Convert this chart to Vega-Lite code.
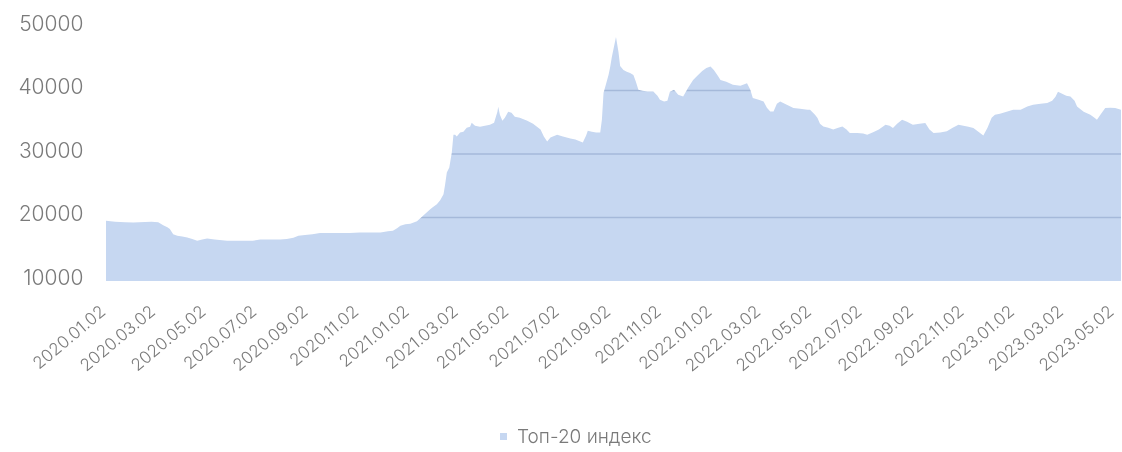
{
  "$schema": "https://vega.github.io/schema/vega-lite/v6.json",
  "width": 1015,
  "height": 254,
  "autosize": {"type": "none"},
  "padding": {"left": 106, "top": 27, "right": 1, "bottom": 171},
  "background": "white",
  "config": {
    "view": {"stroke": null},
    "font": "Inter",
    "legend": {"labelFontSize": 19, "labelFont": "Inter", "labelFontWeight": 300, "labelColor": "#7a7a7a", "symbolSize": 49, "symbolType": "square", "padding": 0}
  },
  "layer": [
    {
      "data": {"values": [
        {"d":"2020-01-02","v":19470},{"d":"2020-01-13","v":19340},{"d":"2020-01-25","v":19260},{"d":"2020-02-04","v":19220},
        {"d":"2020-02-18","v":19310},{"d":"2020-02-26","v":19340},{"d":"2020-03-05","v":19260},{"d":"2020-03-11","v":18790},
        {"d":"2020-03-16","v":18480},{"d":"2020-03-19","v":18170},{"d":"2020-03-23","v":17380},{"d":"2020-03-28","v":17120},
        {"d":"2020-04-03","v":16990},{"d":"2020-04-09","v":16870},{"d":"2020-04-15","v":16600},{"d":"2020-04-21","v":16330},
        {"d":"2020-04-27","v":16520},{"d":"2020-05-03","v":16680},{"d":"2020-05-12","v":16520},{"d":"2020-05-27","v":16330},
        {"d":"2020-06-12","v":16330},{"d":"2020-06-27","v":16330},{"d":"2020-07-06","v":16520},{"d":"2020-07-18","v":16520},
        {"d":"2020-07-30","v":16520},{"d":"2020-08-07","v":16600},{"d":"2020-08-15","v":16830},{"d":"2020-08-21","v":17120},
        {"d":"2020-08-29","v":17230},{"d":"2020-09-07","v":17380},{"d":"2020-09-16","v":17540},{"d":"2020-09-28","v":17540},
        {"d":"2020-10-10","v":17540},{"d":"2020-10-22","v":17570},{"d":"2020-11-03","v":17620},{"d":"2020-11-12","v":17650},
        {"d":"2020-11-21","v":17620},{"d":"2020-11-28","v":17620},{"d":"2020-12-07","v":17850},{"d":"2020-12-13","v":17900},
        {"d":"2020-12-18","v":18320},{"d":"2020-12-22","v":18720},{"d":"2020-12-28","v":18950},{"d":"2021-01-03","v":19030},
        {"d":"2021-01-11","v":19420},{"d":"2021-01-18","v":20250},{"d":"2021-01-23","v":20830},{"d":"2021-01-27","v":21300},
        {"d":"2021-01-30","v":21610},{"d":"2021-02-04","v":22080},{"d":"2021-02-08","v":22710},{"d":"2021-02-12","v":23650},
        {"d":"2021-02-14","v":25220},{"d":"2021-02-16","v":27100},{"d":"2021-02-19","v":27880},{"d":"2021-02-22","v":30230},
        {"d":"2021-02-24","v":33050},{"d":"2021-02-26","v":33050},{"d":"2021-02-28","v":32740},{"d":"2021-03-04","v":33370},
        {"d":"2021-03-08","v":33520},{"d":"2021-03-12","v":34150},{"d":"2021-03-16","v":34310},{"d":"2021-03-18","v":34930},
        {"d":"2021-03-22","v":34460},{"d":"2021-03-28","v":34310},{"d":"2021-04-03","v":34460},{"d":"2021-04-09","v":34620},
        {"d":"2021-04-14","v":34930},{"d":"2021-04-18","v":36660},{"d":"2021-04-19","v":37440},{"d":"2021-04-21","v":36190},
        {"d":"2021-04-24","v":35250},{"d":"2021-04-27","v":35720},{"d":"2021-05-01","v":36660},{"d":"2021-05-05","v":36500},
        {"d":"2021-05-09","v":35870},{"d":"2021-05-15","v":35720},{"d":"2021-05-24","v":35250},{"d":"2021-05-31","v":34780},
        {"d":"2021-06-09","v":33840},{"d":"2021-06-13","v":32740},{"d":"2021-06-17","v":31960},{"d":"2021-06-21","v":32580},
        {"d":"2021-06-29","v":33050},{"d":"2021-07-06","v":32740},{"d":"2021-07-15","v":32430},{"d":"2021-07-21","v":32270},
        {"d":"2021-07-27","v":31960},{"d":"2021-07-30","v":31800},{"d":"2021-08-03","v":32900},{"d":"2021-08-05","v":33680},
        {"d":"2021-08-10","v":33520},{"d":"2021-08-15","v":33370},{"d":"2021-08-20","v":33370},{"d":"2021-08-22","v":35400},
        {"d":"2021-08-24","v":39630},{"d":"2021-08-26","v":40570},{"d":"2021-08-30","v":42460},{"d":"2021-09-01","v":43710},
        {"d":"2021-09-03","v":45280},{"d":"2021-09-06","v":47160},{"d":"2021-09-08","v":48410},{"d":"2021-09-11","v":46060},
        {"d":"2021-09-13","v":43870},{"d":"2021-09-17","v":43240},{"d":"2021-09-21","v":42970},{"d":"2021-09-25","v":42770},
        {"d":"2021-09-29","v":42460},{"d":"2021-10-02","v":41360},{"d":"2021-10-05","v":40100},{"d":"2021-10-10","v":39950},
        {"d":"2021-10-16","v":39840},{"d":"2021-10-23","v":39840},{"d":"2021-10-28","v":39160},{"d":"2021-10-31","v":38540},
        {"d":"2021-11-05","v":38270},{"d":"2021-11-09","v":38380},{"d":"2021-11-12","v":39790},{"d":"2021-11-17","v":40100},
        {"d":"2021-11-22","v":39320},{"d":"2021-11-28","v":39050},{"d":"2021-12-04","v":40420},{"d":"2021-12-10","v":41670},
        {"d":"2021-12-16","v":42460},{"d":"2021-12-21","v":43080},{"d":"2021-12-26","v":43550},{"d":"2021-12-31","v":43760},
        {"d":"2022-01-04","v":43240},{"d":"2022-01-09","v":42300},{"d":"2022-01-12","v":41670},{"d":"2022-01-19","v":41360},
        {"d":"2022-01-27","v":40890},{"d":"2022-02-05","v":40730},{"d":"2022-02-13","v":41150},{"d":"2022-02-17","v":40100},
        {"d":"2022-02-20","v":38800},{"d":"2022-02-27","v":38540},{"d":"2022-03-05","v":38270},{"d":"2022-03-09","v":37280},
        {"d":"2022-03-13","v":36700},{"d":"2022-03-17","v":36700},{"d":"2022-03-21","v":37910},{"d":"2022-03-25","v":38270},
        {"d":"2022-04-02","v":37750},{"d":"2022-04-10","v":37240},{"d":"2022-04-18","v":37130},{"d":"2022-04-27","v":36970},
        {"d":"2022-04-30","v":36970},{"d":"2022-05-06","v":36190},{"d":"2022-05-09","v":35670},{"d":"2022-05-12","v":34780},
        {"d":"2022-05-16","v":34350},{"d":"2022-05-22","v":34150},{"d":"2022-05-28","v":33840},{"d":"2022-06-03","v":34150},
        {"d":"2022-06-08","v":34350},{"d":"2022-06-13","v":33840},{"d":"2022-06-17","v":33320},{"d":"2022-06-26","v":33320},
        {"d":"2022-07-03","v":33210},{"d":"2022-07-08","v":33050},{"d":"2022-07-15","v":33410},{"d":"2022-07-22","v":33840},
        {"d":"2022-07-30","v":34620},{"d":"2022-08-04","v":34460},{"d":"2022-08-08","v":34100},{"d":"2022-08-13","v":34780},
        {"d":"2022-08-19","v":35400},{"d":"2022-08-25","v":35090},{"d":"2022-09-01","v":34620},{"d":"2022-09-09","v":34780},
        {"d":"2022-09-16","v":34890},{"d":"2022-09-21","v":33840},{"d":"2022-09-26","v":33320},{"d":"2022-10-04","v":33370},
        {"d":"2022-10-12","v":33570},{"d":"2022-10-19","v":34150},{"d":"2022-10-26","v":34620},{"d":"2022-11-01","v":34460},
        {"d":"2022-11-07","v":34310},{"d":"2022-11-13","v":34100},{"d":"2022-11-19","v":33520},{"d":"2022-11-25","v":32900},
        {"d":"2022-11-30","v":34150},{"d":"2022-12-05","v":35720},{"d":"2022-12-09","v":36190},{"d":"2022-12-15","v":36340},
        {"d":"2022-12-24","v":36700},{"d":"2022-12-31","v":36970},{"d":"2023-01-09","v":36970},{"d":"2023-01-17","v":37490},
        {"d":"2023-01-24","v":37750},{"d":"2023-02-02","v":37910},{"d":"2023-02-10","v":38020},{"d":"2023-02-16","v":38380},
        {"d":"2023-02-20","v":39010},{"d":"2023-02-23","v":39790},{"d":"2023-02-28","v":39480},{"d":"2023-03-05","v":39160},
        {"d":"2023-03-10","v":39050},{"d":"2023-03-15","v":38380},{"d":"2023-03-18","v":37490},{"d":"2023-03-26","v":36660},
        {"d":"2023-04-03","v":36190},{"d":"2023-04-08","v":35720},{"d":"2023-04-11","v":35400},{"d":"2023-04-16","v":36340},
        {"d":"2023-04-21","v":37240},{"d":"2023-04-27","v":37280},{"d":"2023-05-03","v":37240},{"d":"2023-05-10","v":36970}
      ]},
      "mark": {"type": "area", "clip": true},
      "encoding": {
        "x": {
          "field": "d", "type": "temporal",
          "scale": {"type": "utc", "domain": [{"year": 2020, "month": 1, "date": 2, "utc": true}, {"year": 2023, "month": 5, "date": 10, "utc": true}]},
          "axis": {
            "title": null, "domain": false, "ticks": false, "grid": false,
            "format": "%Y.%m.%d",
            "values": [
              {"year": 2020, "month": 1, "date": 2, "utc": true}, {"year": 2020, "month": 3, "date": 2, "utc": true},
              {"year": 2020, "month": 5, "date": 2, "utc": true}, {"year": 2020, "month": 7, "date": 2, "utc": true},
              {"year": 2020, "month": 9, "date": 2, "utc": true}, {"year": 2020, "month": 11, "date": 2, "utc": true},
              {"year": 2021, "month": 1, "date": 2, "utc": true}, {"year": 2021, "month": 3, "date": 2, "utc": true},
              {"year": 2021, "month": 5, "date": 2, "utc": true}, {"year": 2021, "month": 7, "date": 2, "utc": true},
              {"year": 2021, "month": 9, "date": 2, "utc": true}, {"year": 2021, "month": 11, "date": 2, "utc": true},
              {"year": 2022, "month": 1, "date": 2, "utc": true}, {"year": 2022, "month": 3, "date": 2, "utc": true},
              {"year": 2022, "month": 5, "date": 2, "utc": true}, {"year": 2022, "month": 7, "date": 2, "utc": true},
              {"year": 2022, "month": 9, "date": 2, "utc": true}, {"year": 2022, "month": 11, "date": 2, "utc": true},
              {"year": 2023, "month": 1, "date": 2, "utc": true}, {"year": 2023, "month": 3, "date": 2, "utc": true},
              {"year": 2023, "month": 5, "date": 2, "utc": true}
            ],
            "labelAngle": -40, "labelAlign": "right", "labelBaseline": "middle",
            "labelPadding": 28, "labelOffset": -3, "labelFontSize": 17, "labelFont": "Inter", "labelColor": "#7a7a7a", "labelFontWeight": 300,
            "labelOverlap": false, "labelFlush": false, "labelBound": false
          }
        },
        "y": {
          "field": "v", "type": "quantitative",
          "scale": {"domain": [10000, 50000], "nice": false, "zero": false},
          "axis": {
            "title": null, "domain": false, "ticks": false, "grid": false,
            "values": [10000, 20000, 30000, 40000, 50000], "format": "d",
            "labelFontSize": 21, "labelFont": "Inter", "labelColor": "#7a7a7a", "labelFontWeight": 300,
            "labelPadding": 23, "labelOffset": -3, "labelFlush": false
          }
        },
        "color": {
          "datum": "Топ-20 индекс",
          "scale": {"range": ["#c6d7f1"]},
          "legend": {
            "title": null, "orient": "none", "legendX": 388, "legendY": 400,
            "padding": 0, "symbolType": "square", "symbolSize": 49, "symbolStrokeWidth": 0,
            "labelFontSize": 19, "labelColor": "#7a7a7a", "labelFontWeight": 300, "labelOffset": 4, "labelLimit": 300
          }
        }
      }
    },
    {
      "data": {"values": [{"g": 20000}, {"g": 30000}, {"g": 40000}]},
      "mark": {"type": "rule", "color": "#a29260", "strokeWidth": 1.5, "blend": "color-burn"},
      "encoding": {"y": {"field": "g", "type": "quantitative"}}
    }
  ]
}
